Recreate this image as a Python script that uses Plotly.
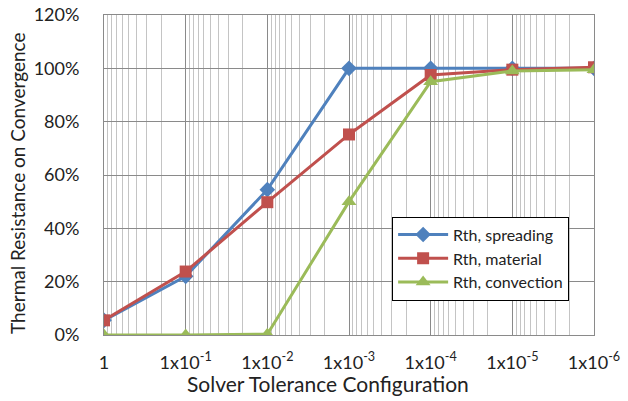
import plotly.graph_objects as go

tolerances = [1, 1e-1, 1e-2, 1e-3, 1e-4, 1e-5, 1e-6]
tick_labels = ["1", "1x10<sup>-1</sup>", "1x10<sup>-2</sup>", "1x10<sup>-3</sup>",
               "1x10<sup>-4</sup>", "1x10<sup>-5</sup>", "1x10<sup>-6</sup>"]
spreading = [5.5, 22, 54.5, 100, 100, 100, 100]
material = [5.5, 23.8, 49.8, 75.2, 97.5, 99.5, 100.4]
convection = [0, 0, 0.3, 50, 95, 99, 99.5]
series_names = ["Rth, spreading", "Rth, material", "Rth, convection"]
colors = ["#4F81BD", "#C0504D", "#9BBB59"]
symbols = ["diamond", "square", "triangle-up"]
x_title = "Solver Tolerance Configuration"
y_title = "Thermal Resistance on Convergence"

FONT = "Lato"
fig = go.Figure()
for name, vals, c, s, sz in zip(series_names, [spreading, material, convection], colors, symbols, [12, 12, 13]):
    fig.add_trace(go.Scatter(x=tolerances, y=vals, name=name, mode="lines+markers",
                             line=dict(color=c, width=3),
                             marker=dict(symbol=s, size=sz, color=c)))

fig.update_layout(
    width=628, height=401,
    margin=dict(l=104, r=34, t=15, b=66),
    paper_bgcolor="white", plot_bgcolor="white",
    font=dict(family=FONT, size=18, color="#222"),
    showlegend=True,
    legend=dict(x=0.588, y=0.37, xanchor="left", yanchor="top",
                bordercolor="black", borderwidth=1, bgcolor="white",
                font=dict(size=16, family=FONT), tracegroupgap=0, itemwidth=50),
    xaxis=dict(type="log", range=[0, -6], tickvals=tolerances, ticktext=tick_labels,
               showgrid=True, gridcolor="#8a8a8a", gridwidth=1,
               minor=dict(dtick="D1", showgrid=True, gridcolor="#c4c4c4", gridwidth=1),
               showline=True, linecolor="#8a8a8a", mirror=True, ticks="",
               automargin=False, ticklabelstandoff=11, ticklabeloverflow="allow",
               tickfont=dict(size=18)),
    yaxis=dict(range=[0, 120], dtick=20, ticksuffix="%",
               showgrid=True, gridcolor="#8a8a8a", gridwidth=1,
               showline=True, linecolor="#8a8a8a", mirror=True, ticks="",
               zeroline=False, automargin=False, ticklabelstandoff=20,
               ticklabeloverflow="allow",
               tickfont=dict(size=18)),
    annotations=[
        dict(text=x_title, xref="paper", yref="paper", x=0.457, y=-0.153,
             xanchor="center", yanchor="middle", showarrow=False,
             font=dict(size=21, family=FONT, color="#222")),
        dict(text=y_title, xref="paper", yref="paper", x=-0.1776, y=0.475,
             xanchor="center", yanchor="middle", showarrow=False, textangle=-90,
             font=dict(size=19, family=FONT, color="#222")),
    ],
)
fig.write_html("out.html", config={"displayModeBar": False},
               post_script="document.body.style.margin='0';document.body.style.overflow='hidden';")
